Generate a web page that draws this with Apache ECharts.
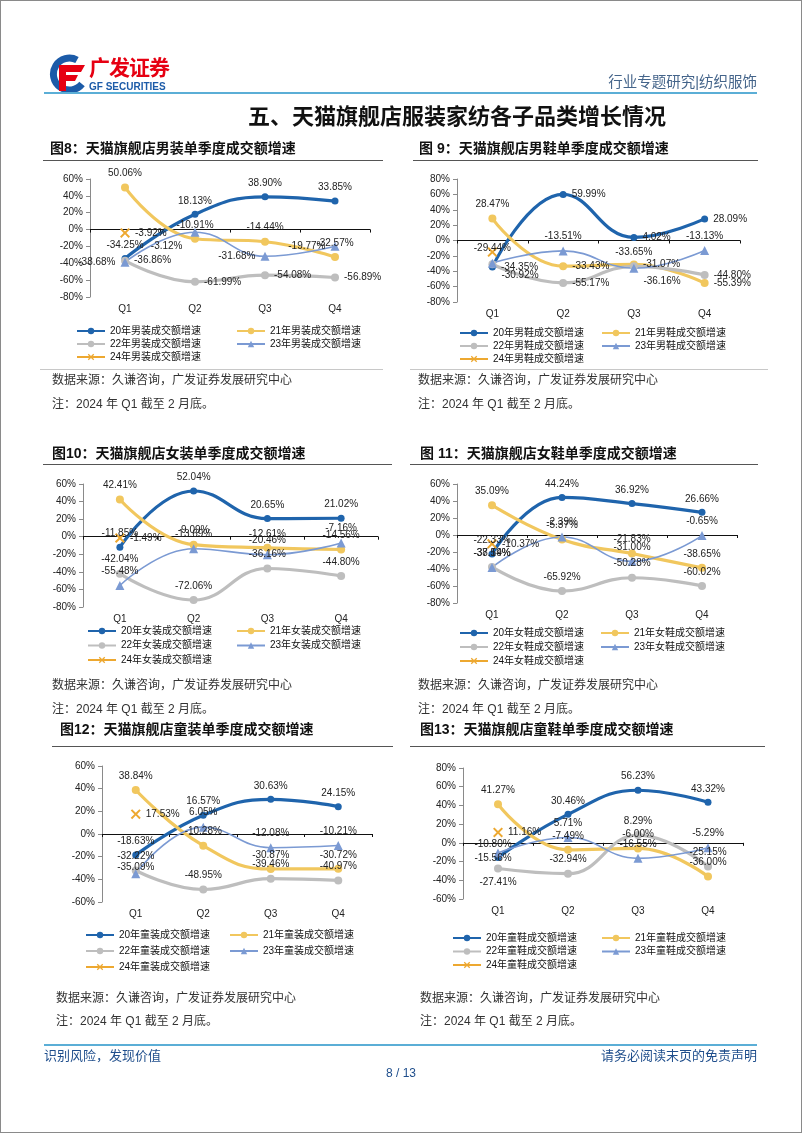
<!DOCTYPE html>
<html><head><meta charset="utf-8">
<script src="https://cdn.jsdelivr.net/npm/echarts/dist/echarts.min.js"></script>
<style>
body{margin:0;background:#fff}
#page{position:relative;width:802px;height:1133px;overflow:hidden;background:#fff}
#chart{position:absolute;left:0;top:0;width:802px;height:1133px}
.t{position:absolute;white-space:nowrap;font-family:"Liberation Sans","Noto Sans CJK SC",sans-serif;z-index:5}
.ln{position:absolute;z-index:5}
#border{position:absolute;left:0;top:0;width:802px;height:1133px;box-sizing:border-box;border:1px solid #8a8a8a;z-index:6;pointer-events:none}
.ct{font-size:14px;font-weight:bold;color:#111;line-height:16px}
.src{font-size:12px;color:#333;line-height:14px}
</style></head>
<body><div id="page">
<div id="chart"></div>
<div id="border"></div>
<!-- header -->
<svg class="ln" style="left:44px;top:54px" width="44" height="40" viewBox="0 0 44 40">
<path d="M33,6 A16,16 0 1 0 38,30" stroke="#1C5BA8" stroke-width="7" fill="none"/>
<path d="M15,11 H41 L37,18 H22 V21 H34 L31,27 H22 V37 H15 Z" fill="#E60012"/>
</svg>
<div class="t" style="left:89px;top:55px;font-size:21px;font-weight:bold;color:#E60012;line-height:26px;letter-spacing:-1px">广发证券</div>
<div class="t" style="left:89px;top:81px;font-size:10px;font-weight:bold;color:#1C5BA8;line-height:12px">GF SECURITIES</div>
<div class="t" style="right:45px;top:73px;font-size:14.5px;color:#44648A;line-height:18px">行业专题研究|纺织服饰</div>
<div class="ln" style="left:44px;top:92px;width:713px;height:2px;background:#5BAED6"></div>
<div class="t" style="left:0;width:914px;text-align:center;top:104px;font-size:22px;font-weight:bold;color:#111;line-height:26px">五、天猫旗舰店服装家纺各子品类增长情况</div>
<!-- chart titles -->
<div class="t ct" style="left:50px;top:140px">图8：天猫旗舰店男装单季度成交额增速</div>
<div class="t ct" style="left:419px;top:140px">图 9：天猫旗舰店男鞋单季度成交额增速</div>
<div class="t ct" style="left:52px;top:445px">图10：天猫旗舰店女装单季度成交额增速</div>
<div class="t ct" style="left:420px;top:445px">图 11：天猫旗舰店女鞋单季度成交额增速</div>
<div class="t ct" style="left:60px;top:721px">图12：天猫旗舰店童装单季度成交额增速</div>
<div class="t ct" style="left:420px;top:721px">图13：天猫旗舰店童鞋单季度成交额增速</div>
<div class="ln" style="left:43px;top:160px;width:340px;height:1px;background:#555"></div>
<div class="ln" style="left:413px;top:160px;width:345px;height:1px;background:#555"></div>
<div class="ln" style="left:43px;top:464px;width:349px;height:1px;background:#555"></div>
<div class="ln" style="left:410px;top:464px;width:348px;height:1px;background:#555"></div>
<div class="ln" style="left:52px;top:746px;width:341px;height:1px;background:#555"></div>
<div class="ln" style="left:410px;top:746px;width:355px;height:1px;background:#555"></div>
<!-- separators -->
<div class="ln" style="left:40px;top:369px;width:343px;height:1px;background:#c8c8c8"></div>
<div class="ln" style="left:410px;top:369px;width:358px;height:1px;background:#c8c8c8"></div>
<!-- sources -->
<div class="t src" style="left:52px;top:373px">数据来源：久谦咨询，广发证券发展研究中心</div>
<div class="t src" style="left:52px;top:397px">注：2024 年 Q1 截至 2 月底。</div>
<div class="t src" style="left:418px;top:373px">数据来源：久谦咨询，广发证券发展研究中心</div>
<div class="t src" style="left:418px;top:397px">注：2024 年 Q1 截至 2 月底。</div>
<div class="t src" style="left:52px;top:678px">数据来源：久谦咨询，广发证券发展研究中心</div>
<div class="t src" style="left:52px;top:702px">注：2024 年 Q1 截至 2 月底。</div>
<div class="t src" style="left:418px;top:678px">数据来源：久谦咨询，广发证券发展研究中心</div>
<div class="t src" style="left:418px;top:702px">注：2024 年 Q1 截至 2 月底。</div>
<div class="t src" style="left:56px;top:991px">数据来源：久谦咨询，广发证券发展研究中心</div>
<div class="t src" style="left:56px;top:1014px">注：2024 年 Q1 截至 2 月底。</div>
<div class="t src" style="left:420px;top:991px">数据来源：久谦咨询，广发证券发展研究中心</div>
<div class="t src" style="left:420px;top:1014px">注：2024 年 Q1 截至 2 月底。</div>
<!-- footer -->
<div class="ln" style="left:44px;top:1044px;width:713px;height:2px;background:#5BAED6"></div>
<div class="t" style="left:44px;top:1048px;font-size:13px;color:#1F4E8C;line-height:16px">识别风险，发现价值</div>
<div class="t" style="right:45px;top:1048px;font-size:13px;color:#1F4E8C;line-height:16px">请务必阅读末页的免责声明</div>
<div class="t" style="left:0;width:802px;text-align:center;top:1066px;font-size:12px;color:#1F4E8C;line-height:14px">8 / 13</div>
</div>
<script>
const quarters = ['Q1', 'Q2', 'Q3', 'Q4'];
const years = ['20年', '21年', '22年', '23年', '24年'];

// 图8 男装
const fig8Y20 = [-34.25, 18.13, 38.90, 33.85];
const fig8Y21 = [50.06, -10.91, -14.44, -32.57];
const fig8Y22 = [-36.86, -61.99, -54.08, -56.89];
const fig8Y23 = [-38.68, -3.12, -31.68, -19.77];
const fig8Y24 = [-3.92, null, null, null];
const fig8Ticks = [-80, -60, -40, -20, 0, 20, 40, 60];

// 图9 男鞋
const fig9Y20 = [-34.35, 59.99, 4.02, 28.09];
const fig9Y21 = [28.47, -33.43, -31.07, -55.39];
const fig9Y22 = [-30.92, -55.17, -33.65, -44.80];
const fig9Y23 = [-29.44, -13.51, -36.16, -13.13];
const fig9Y24 = [-15.0, null, null, null];
const fig9Ticks = [-80, -60, -40, -20, 0, 20, 40, 60, 80];

// 图10 女装
const fig10Y20 = [-11.85, 52.04, 20.65, 21.02];
const fig10Y21 = [42.41, -9.09, -12.61, -14.56];
const fig10Y22 = [-42.04, -72.06, -36.16, -44.80];
const fig10Y23 = [-55.48, -13.69, -20.46, -7.16];
const fig10Y24 = [-1.49, null, null, null];
const fig10Ticks = [-80, -60, -40, -20, 0, 20, 40, 60];

// 图11 女鞋
const fig11Y20 = [-22.33, 44.24, 36.92, 26.66];
const fig11Y21 = [35.09, -5.37, -21.83, -38.65];
const fig11Y22 = [-37.59, -65.92, -50.28, -60.02];
const fig11Y23 = [-38.14, -2.39, -31.00, -0.65];
const fig11Y24 = [-10.37, null, null, null];
const fig11Ticks = [-80, -60, -40, -20, 0, 20, 40, 60];

// 图12 童装
const fig12Y20 = [-18.63, 16.57, 30.63, 24.15];
const fig12Y21 = [38.84, -10.28, -30.87, -30.72];
const fig12Y22 = [-32.22, -48.95, -39.46, -40.97];
const fig12Y23 = [-35.09, 6.05, -12.08, -10.21];
const fig12Y24 = [17.53, null, null, null];
const fig12Ticks = [-60, -40, -20, 0, 20, 40, 60];

// 图13 童鞋
const fig13Y20 = [-15.56, 30.46, 56.23, 43.32];
const fig13Y21 = [41.27, -7.49, -6.00, -36.00];
const fig13Y22 = [-27.41, -32.94, 8.29, -25.15];
const fig13Y23 = [-10.80, 5.71, -16.55, -5.29];
const fig13Y24 = [11.16, null, null, null];
const fig13Ticks = [-60, -40, -20, 0, 20, 40, 60, 80];

const F = '"Liberation Sans", Arial, "Noto Sans CJK SC", sans-serif';
const FL = '"Liberation Sans", "Noto Sans CJK SC", sans-serif';
const xPath = 'path://M0,1.4L1.4,0L5,3.6L8.6,0L10,1.4L6.4,5L10,8.6L8.6,10L5,6.4L1.4,10L0,8.6L3.6,5Z';
const styles = [
  { color: '#1F64AC', width: 3.2, symbol: 'circle', size: 7 },
  { color: '#F1C75E', width: 3.2, symbol: 'circle', size: 8 },
  { color: '#BEBEBE', width: 3.2, symbol: 'circle', size: 8 },
  { color: '#7B9AD3', width: 1.6, symbol: 'triangle', size: 9 },
  { color: '#EDA830', width: 2.2, symbol: xPath, size: 10 }
];

const figs = [
  { cat: '男装', data: [fig8Y20, fig8Y21, fig8Y22, fig8Y23, fig8Y24], ticks: fig8Ticks,
    grid: { left: 90, top: 179, width: 280, height: 118 },
    legend: { x1: 76, x2: 236, top: 331, gap: 13 },
    pos: ['top', 'top', 'right', 'left', 'right'],
    over: { '3-1': { position: 'left', offset: [-3, 14] } } },
  { cat: '男鞋', data: [fig9Y20, fig9Y21, fig9Y22, fig9Y23, fig9Y24], ticks: fig9Ticks,
    grid: { left: 457, top: 179, width: 283, height: 123 },
    legend: { x1: 459, x2: 601, top: 333, gap: 13 },
    pos: ['right', 'right', 'right', 'top', 'none'],
    over: { '1-0': { position: 'top' }, '2-0': { position: 'right', offset: [0, 11] },
            '2-2': { position: 'top' }, '3-2': { position: 'right', offset: [0, 13] } } },
  { cat: '女装', data: [fig10Y20, fig10Y21, fig10Y22, fig10Y23, fig10Y24], ticks: fig10Ticks,
    grid: { left: 83, top: 484, width: 295, height: 123 },
    legend: { x1: 87, x2: 236, top: 631, gap: 14.5 },
    pos: ['top', 'top', 'top', 'top', 'right'], over: {} },
  { cat: '女鞋', data: [fig11Y20, fig11Y21, fig11Y22, fig11Y23, fig11Y24], ticks: fig11Ticks,
    grid: { left: 457, top: 484, width: 280, height: 119 },
    legend: { x1: 459, x2: 600, top: 633, gap: 14 },
    pos: ['top', 'top', 'top', 'top', 'right'], over: {} },
  { cat: '童装', data: [fig12Y20, fig12Y21, fig12Y22, fig12Y23, fig12Y24], ticks: fig12Ticks,
    grid: { left: 102, top: 766, width: 270, height: 136 },
    legend: { x1: 85, x2: 229, top: 935, gap: 16 },
    pos: ['top', 'top', 'top', 'top', 'right'],
    over: { '3-0': { position: 'top', offset: [0, 8] } } },
  { cat: '童鞋', data: [fig13Y20, fig13Y21, fig13Y22, fig13Y23, fig13Y24], ticks: fig13Ticks,
    grid: { left: 463, top: 768, width: 280, height: 131 },
    legend: { x1: 452, x2: 601, top: 938, gap: 13.5 },
    pos: ['top', 'top', 'top', 'top', 'right'],
    over: { '0-0': { position: 'inside', offset: [-5, 1] }, '2-0': { position: 'bottom' },
            '3-0': { position: 'top', offset: [-5, 6] } } }
];

const option = { animation: false, grid: [], xAxis: [], yAxis: [], legend: [], series: [] };

figs.forEach((f, i) => {
  const names = years.map(y => y + f.cat + '成交额增速');
  option.grid.push(Object.assign({ containLabel: false }, f.grid));
  option.xAxis.push({
    type: 'category', gridIndex: i, data: quarters, boundaryGap: true, position: 'bottom',
    axisLine: { show: false, onZero: false }, axisTick: { show: false },
    axisLabel: { fontSize: 10, color: '#222', margin: 7, fontFamily: F }
  });
  option.xAxis.push({
    type: 'category', gridIndex: i, data: quarters, boundaryGap: true, position: 'top',
    axisLine: { show: true, onZero: true, lineStyle: { color: '#111', width: 1 } },
    axisTick: { show: true, inside: true, length: 3, lineStyle: { color: '#111' } },
    axisLabel: { show: false }, splitLine: { show: false }
  });
  option.yAxis.push({
    type: 'value', gridIndex: i, min: f.ticks[0], max: f.ticks[f.ticks.length - 1],
    interval: f.ticks[1] - f.ticks[0], splitLine: { show: false },
    axisLine: { show: true, onZero: false, lineStyle: { color: '#8a8a8a' } },
    axisTick: { show: true, length: 4, lineStyle: { color: '#8a8a8a' } },
    axisLabel: { formatter: '{value}%', fontSize: 10, color: '#222', margin: 7, fontFamily: F }
  });
  const lg = f.legend;
  const legendBase = {
    orient: 'vertical', itemGap: 0, itemWidth: 28, itemHeight: 8, padding: 0,
    selectedMode: false,
    textStyle: { fontSize: 10, color: '#111', fontFamily: FL, lineHeight: lg.gap, height: lg.gap }
  };
  option.legend.push(Object.assign({}, legendBase, { left: lg.x1, top: lg.top - lg.gap / 2, data: [names[0], names[2], names[4]] }));
  option.legend.push(Object.assign({}, legendBase, { left: lg.x2, top: lg.top - lg.gap / 2, data: [names[1], names[3]] }));

  f.data.forEach((arr, s) => {
    const st = styles[s];
    const pos = f.pos[s];
    option.series.push({
      name: names[s], type: 'line', xAxisIndex: 2 * i, yAxisIndex: i,
      smooth: 0.45, symbol: st.symbol, symbolSize: st.size, showAllSymbol: true,
      lineStyle: { color: st.color, width: st.width }, itemStyle: { color: st.color },
      emphasis: { disabled: true },
      label: {
        show: pos !== 'none', position: pos === 'none' ? 'top' : pos, fontSize: 10,
        color: '#222', fontFamily: F,
        formatter: p => (p.value == null ? '' : Number(p.value).toFixed(2) + '%')
      },
      data: arr.map((v, j) => {
        const o = f.over[s + '-' + j];
        return o ? { value: v, label: o } : v;
      })
    });
  });
});

const chart = echarts.init(document.getElementById('chart'), null, { renderer: 'canvas' });
chart.setOption(option);
</script>
</body></html>
